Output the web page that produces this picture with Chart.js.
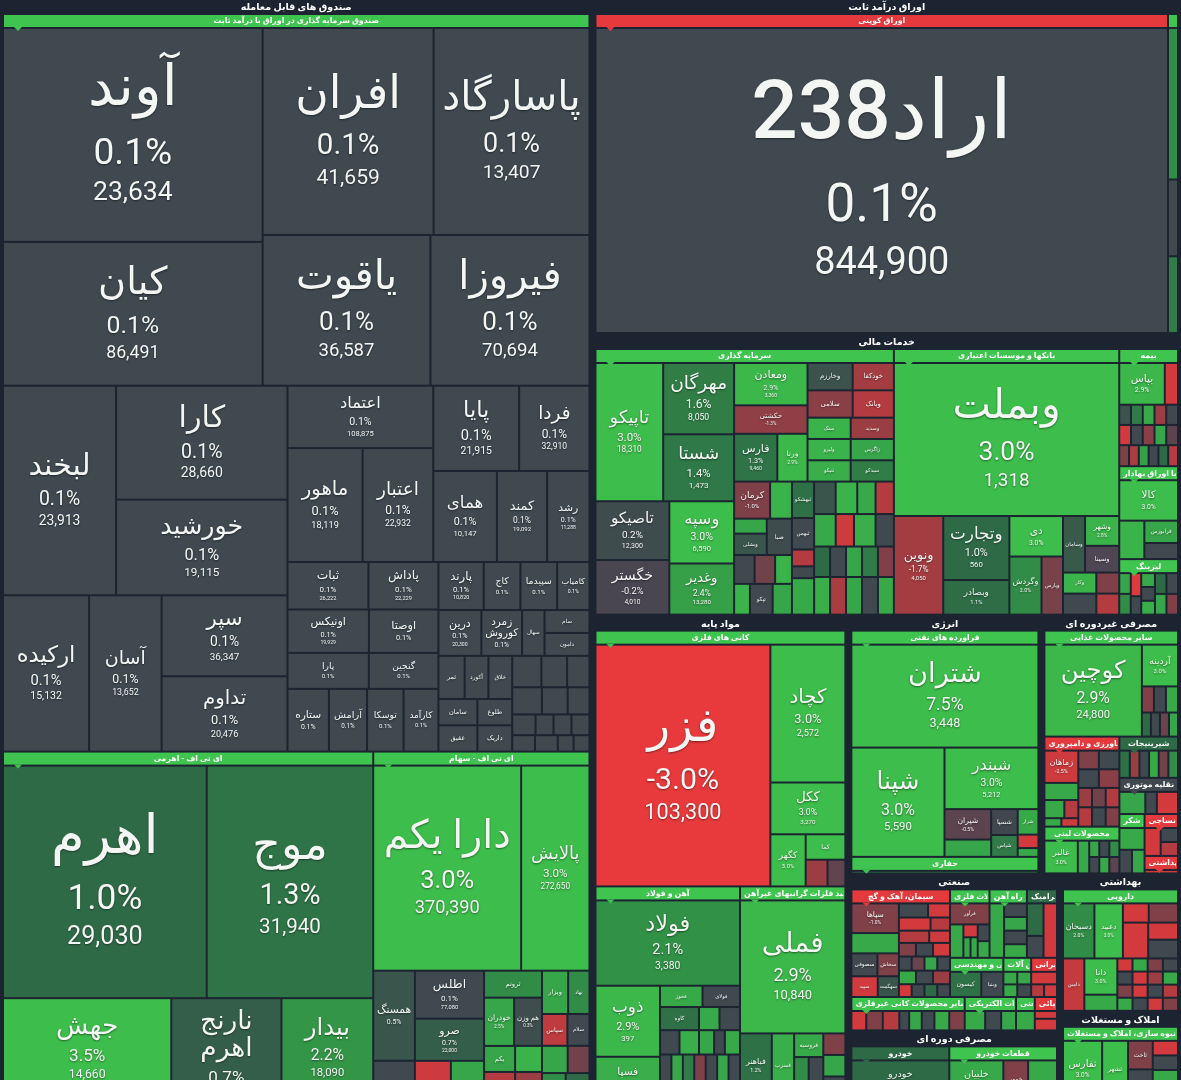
<!DOCTYPE html>
<html><head><meta charset="utf-8">
<script src="https://cdn.jsdelivr.net/npm/chart.js@4.4.1/dist/chart.umd.min.js"></script>
<style>html,body{margin:0;padding:0;background:#1b2430;overflow:hidden}#wrap{width:1181px;height:1080px;position:relative}</style>
</head><body><div id="wrap"><canvas id="c"></canvas></div>
<script>
// ---------------- DATA ----------------
const sectorTitles = ['صندوق های قابل معامله','اوراق درآمد ثابت','خدمات مالی','مواد پایه','انرژی','مصرفی غیردوره ای','صنعتی','مصرفی دوره ای','بهداشتی','املاک و مستغلات'];

const industryKeys   = ['fund','lev','etfs','coupon','couponX','inv','bank','ins','secx','leasing','metal','steel','prec','refin','mining','food','agri','dairy','sweets','vehTrade','sugar','textile','hyg','cement','metalProd','rail','ceramic','engServ','machinery','water','mineral','electric','indSrv','chem','auto','parts','pharma','realty'];
const industryTitles = ['صندوق سرمایه گذاری در اوراق با درآمد ثابت','ای تی اف - اهرمی','ای تی اف - سهام','اوراق کوپنی','','سرمایه گذاری','بانکها و موسسات اعتباری','بیمه','مرتبط با اوراق بهادار','لیزینگ','کانی های فلزی','آهن و فولاد','تولید فلزات گرانبهای غیرآهن','فراورده های نفتی','حفاری','سایر محصولات غذایی','کشاورزی و دامپروری','محصولات لبنی','شیرینیجات','وسایل نقلیه موتوری','قند و شکر','نساجی','بهداشتی','سیمان، آهک و گچ','محصولات فلزی','راه آهن','کاشی و سرامیک','خدمات فنی و مهندسی','ماشین آلات','کشتیرانی','سایر محصولات کانی غیرفلزی','تجهیزات الکتریکی','خدمات صنعتی','محصولات شیمیائی','خودرو','قطعات خودرو','دارویی','انبوه سازی، املاک و مستغلات'];
const industryTrend  = [3,3,3,-3,3,3,3,3,3,3,3,3,3,3,3,3,-3,3,1,0,3,-3,-3,-3,3,3,1,3,3,-3,3,3,3,-3,1,3,3,3];

// صندوق سرمایه گذاری در اوراق با درآمد ثابت
const fundNames = ['آوند','کیان','افران','پاسارگاد','یاقوت','فیروزا','لبخند','کارا','خورشید','ارکیده','آسان','سپر','تداوم','اعتماد','ماهور','اعتبار','پایا','فردا','همای','کمند','رشد','ثبات','پاداش','اونیکس','اوصتا','پارا','گنجین','ستاره','آرامش','توسکا','کارآمد','پارند','کاج','سپیدما','کامیاب','درین','زمرد کوروش','سهال','سام','دامون','ثمر','آکورد','خلاق','سامان','طلوع','عقیق','داریک','','','','','','','','','','','','','',''];
const fundPct   = [0.1,0.1,0.1,0.1,0.1,0.1,0.1,0.1,0.1,0.1,0.1,0.1,0.1,0.1,0.1,0.1,0.1,0.1,0.1,0.1,0.1,0.1,0.1,0.1,0.1,0.1,0.1,0.1,0.1,0.1,0.1,0.1,0.1,0.1,0.1,0.1,0.1,0.1,0.1,0.1,0.1,0.1,0.1,0.1,0.1,0.1,0.1,0.1,0.1,0.1,0.1,0.1,0.1,0.1,0.1,0.1,0.1,0.1,0.1,0.1,0.1];
const fundPrice = [23634,86491,41659,13407,36587,70694,23913,28660,19115,15132,13652,36347,20476,108875,18119,22932,21915,32910,10147,19092,11288,26222,22229,19929,null,null,null,17829,null,null,null,10820,null,null,null,20300,10900];
const fundSize  = [547,366,347,316,247,234,231,190,159,130,109,98,91,87,82,77,70,57,55,43,36,36,31,33,28,27,23,24,22,21,20,20,16,16,14,18,17,9,9,9,10,9,9,9,8,9,8,8,7,6,7,6,5,4,3,3,3,3,3,2,2];
const fundTree  = ['v',['h',['v',0,1],['v',['h',2,3],['h',4,5]]],['h',['v',['h',6,['v',7,8]],['h',9,10,['v',11,12]]],['v',['h',['v',13,['h',14,15]],['v',['h',16,17],['h',18,19,20]]],['h',['v',['h',21,22],['h',23,24],['h',25,26],['h',27,28,29,30]],['v',['h',31,32,33,34],['h',35,36,37,['v',38,39]],['h',['v',['h',40,41,42],['h',43,44],['h',45,46]],['v',['h',47,48,49],['h',50,51,52],['h',53,54,55,56],['h',57,58,59,60]]]]]]]];

// ای تی اف - اهرمی
const levNames = ['اهرم','موج','جهش','نارنج اهرم','بیدار'];
const levPct   = [1.0,1.3,3.5,0.7,2.2];
const levPrice = [29030,31940,14660,null,18090];
const levSize  = [466,380,163,106,88];
const levTree  = ['v',['h',0,1],['h',2,3,4]];

// ای تی اف - سهام
const etfsNames = ['دارا یکم','پالایش','همسنگ','','اطلس','صرو','','','ثروتم','خودران','هم وزن','ویزار','نهاد','سپاس','سلام','یکم','','','','','','',''];
const etfsPct   = [3.0,3.0,0.5,0.1,0.1,0.7,-2.5,2.5,2.0,2.5,0.3,2.5,2.0,-2.2,0.1,2.5,2.8,-2.0,-1.5,2.5,-0.8,2.0,1.0];
const etfsPrice = [370390,272650,10700,null,77080,22000];
const etfsSize  = [297,135,35,14,31,27,12,11,14,13,12,10,8,7,6,7,6,7,6,6,5,5,5];
const etfsTree  = ['v',['h',0,1],['h',['v',2,3],['v',4,5,['h',6,7]],['v',8,['h',9,10],['v',['h',15,16],['h',17,18]]],['v',['h',11,12],['h',13,14],['v',['h',19,20],['h',21,22]]]]];

// اوراق کوپنی
const couponNames = ['اراد238'];
const couponPct   = [0.1];
const couponPrice = [844900];
const couponSize  = [1733];
const couponTree  = 0;

const couponXNames = ['','',''];
const couponXPct   = [2.0,0.1,1.5];
const couponXPrice = [];
const couponXSize  = [12,6,6];
const couponXTree  = ['v',0,1,2];

// سرمایه گذاری
const invNames = ['تاپیکو','مهرگان','شستا','تاصیکو','خگستر','وسپه','وغدیر','ومعادن','حکشتی','فارس','ورنا','وخارزم','خودکفا','سلامی','وبانک','ستک','وسدید','ولپرو','زاگرس','ثنیکو','سیدکو','کرمان','','وسیم','ویشلی','صبا','ستم','برکت','','','تپکو','','ثبهشکو','ثبهمن','','','','','','','','','','','','','','','','','','','','',''];
const invPct   = [3.0,1.6,1.4,0.2,-0.2,3.0,2.4,2.9,-1.3,1.3,2.9,0.4,-1.7,-1.2,-2.0,2.8,-1.5,2.8,2.5,2.7,1.6,-1.0,2.8,2.5,0.5,0.2,0.1,-0.8,2.8,2.8,0.1,2.5,1.2,0.1,-2.0,0.1,2.6,0.5,2.8,2.6,-2.0,2.6,-2.5,2.7,0.1,1.0,0.1,2.5,1.5,-1.0,2.7,-1.8,2.5,0.1,2.6];
const invPrice = [18310,8050,1473,12300,4010,6590,13280,3360,null,9460];
const invSize  = [90,48,45,41,38,38,31,29,19,19,13,11,10,11,10,8,8,8,8,8,8,12,7,4,6,8,5,5,4,4,6,5,7,6,3,2,7,6,6,5,5,6,5,6,5,4,4,4,4,4,5,5,5,5,5];
const invTree  = ['h',['v',['h',0,['v',1,2]],['h',['v',3,4],['v',5,6]]],['v',['h',['v',7,8,['h',9,10]],['v',['h',11,12],['h',13,14],['h',15,16],['h',17,18],['h',19,20]]],['h',['v',['h',21,22],['h',['v',23,24],25],['h',26,27,28],['h',29,30,31]],['v',32,33,34,35,36],['v',['h',37,38,39,40],['h',41,42,43,44],['h',45,46,47,48,49],['h',50,51,52,53,54]]]]];

// بانکها و موسسات اعتباری
const bankNames = ['وبملت','ونوین','وتجارت','وبصادر','دی','وگردش','وپارس','وسامان','وشهر','وسینا','وکار','','',''];
const bankPct   = [3.0,-1.7,1.0,1.1,3.0,2.0,-0.9,0.6,2.8,-0.3,2.8,0.1,-1.0,-2.0];
const bankPrice = [1318,4050,560];
const bankSize  = [339,46,40,21,20,17,11,11,9,8,6,6,4,4];
const bankTree  = ['v',0,['h',1,['v',2,3],['v',4,['h',5,6]],['v',['h',7,['v',8,9]],['h',['v',10,11],['v',12,13]]]]];

// بیمه
const insNames = ['بپاس','','','','','','','','','','','','','','','','',''];
const insPct   = [2.9,-2.6,0.4,1.5,2.6,-1.5,0.1,-2.6,0.1,-1.2,2.5,-0.5,-1.0,-1.8,2.4,0.1,1.0,-2.0];
const insPrice = [5800];
const insSize  = [17.5,4.5,1.8,1.8,1.8,1.8,1.8,1.8,1.8,1.8,1.8,1.8,1.5,1.5,1.5,1.5,1.5,1.5];
const insTree  = ['v',['h',0,1],['h',2,3,4,5,6],['h',7,8,9,10,11],['h',12,13,14,15,16,17]];

const secxNames = ['کالا','','فرابورس',''];
const secxPct   = [3.0,2.8,2.5,0.1];
const secxPrice = [8020];
const secxSize  = [22,8.5,6.5,4.5];
const secxTree  = ['v',0,['h',1,['v',2,3]]];

const leasingNames = ['','','','','','','','','','',''];
const leasingPct   = [2.5,2.0,-2.8,0.1,2.6,0.1,2.7,1.0,2.5,0.1,-1.0];
const leasingPrice = [];
const leasingSize  = [1.8,1.8,1.8,1.4,1.4,1.4,1.4,1.8,1.8,1.8,1.8];
const leasingTree  = ['h',['v',0,1],['v',2,3],['v',4,5,6],['v',7,8],['v',9,10]];

// کانی های فلزی
const metalNames = ['فزر','کچاد','ککل','کگهر','کما','',''];
const metalPct   = [-3.0,3.0,3.0,3.0,3.0,-1.5,-0.6];
const metalPrice = [103300,2572,3270];
const metalSize  = [422,101,37,17,9,5,4];
const metalTree  = ['h',0,['v',1,2,['h',3,['v',4,['h',5,6]]]]];

// آهن و فولاد
const steelNames = ['فولاد','ذوب','فسپا','فخوز','فولای','کاوه','فجر','','فخاس','','','','','','','','','','',''];
const steelPct   = [2.1,2.9,2.7,2.6,0.1,1.2,2.6,0.1,0.1,2.7,2.5,0.1,2.6,0.1,2.6,1.5,-1.0,0.1,2.5,0.1];
const steelPrice = [3380,397];
const steelSize  = [121,44,25,8,7,8,4,4,4,4,3,2,3,4,4,4,4,4,4,4];
const steelTree  = ['v',0,['h',['v',1,2],['v',['h',3,4],['h',5,6,7],['h',8,9,10,11,12],['h',13,14,15,16,17,18,19]]]];

// تولید فلزات گرانبها
const precNames = ['فملی','فباهنر','فسرب','فروسیه','','','','',''];
const precPct   = [2.9,1.2,2.7,2.6,2.0,0.1,-1.0,2.5,0.1];
const precPrice = [10840];
const precSize  = [138,19,13,6,5,5,4,4,4];
const precTree  = ['v',0,['h',1,2,['v',3,['h',4,5]],['v',6,7,8]]];

// فراورده های نفتی
const refinNames = ['شتران','شپنا','شبندر','شیران','شسپا','شراز','','شپاس','',''];
const refinPct   = [7.5,3.0,3.0,-0.5,0.0,2.6,2.5,1.5,-2.6,2.6];
const refinPrice = [3448,5590,5212];
const refinSize  = [191,100,56,13,6,4.5,7,5,2.2,1.3];
const refinTree  = ['v',0,['h',1,['v',2,['h',['v',3,6],['v',4,7],['v',5,8,9]]]]];

const miningNames = [''];
const miningPct   = [2.0];
const miningPrice = [];
const miningSize  = [1];
const miningTree  = 0;

// مصرفی غیردوره ای
const foodNames = ['کوچین','آردینه','','','','','','',''];
const foodPct   = [2.9,3.0,-1.0,0.1,2.6,1.0,0.1,-0.7,2.5];
const foodPrice = [24800];
const foodSize  = [88,14,2.5,2.5,2.5,1.6,1.6,1.6,1.6];
const foodTree  = ['h',0,['v',1,['h',2,3,4],['h',5,6,7,8]]];

const agriNames = ['زماهان','زکوثر','زشگزا','','','','','','','','','','','','',''];
const agriPct   = [-2.5,2.6,2.6,-2.0,2.6,-2.5,-1.0,0.1,0.1,-1.2,-1.5,-0.8,-2.0,-2.0,0.1,-1.0];
const agriPrice = [];
const agriSize  = [10,5,3,2,1,1,3.2,3.2,3.2,3.2,2.1,2.1,2.1,2.1,2.1,2.1];
const agriTree  = ['h',['v',0,1,['h',2,3],['h',4,5]],['v',['h',6,7],['h',8,9],['h',10,11,12],['h',13,14,15]]];

const dairyNames = ['غالبر','','','','','','',''];
const dairyPct   = [3.0,2.6,2.5,0.1,2.0,0.1,2.6,-0.5];
const dairyPrice = [];
const dairySize  = [10,3,1.2,1.2,1.2,1.2,1.2,1.2];
const dairyTree  = ['h',0,1,['v',['h',2,3,4],['h',5,6,7]]];

const sweetsNames = ['','','','','',''];
const sweetsPct   = [1.2,-1.5,0.1,2.6,-0.8,2.0];
const sweetsPrice = [];
const sweetsSize  = [2.2,2,2,2,2,2];
const sweetsTree  = ['h',0,1,2,3,4,5];

const vehTradeNames = ['','',''];
const vehTradePct   = [2.5,0.1,-2.6];
const vehTradePrice = [];
const vehTradeSize  = [5,2,4];
const vehTradeTree  = ['h',0,1,2];

const sugarNames = ['','',''];
const sugarPct   = [2.6,0.1,2.5];
const sugarPrice = [];
const sugarSize  = [5,2.5,2.5];
const sugarTree  = ['v',0,['h',1,2]];

const textileNames = ['','',''];
const textilePct   = [-2.6,0.1,-2.0];
const textilePrice = [];
const textileSize  = [4,2,2];
const textileTree  = ['h',0,['v',1,2]];

const hygNames = [''];
const hygPct   = [-2.6];
const hygPrice = [];
const hygSize  = [0.5];
const hygTree  = 0;

// صنعتی
const cementNames = ['سپاها','','','','','سشرق','','','سصوفی','سخاش','سپید','سهگمت','','','','','','','','','','','','','',''];
const cementPct   = [-1.0,0.1,-2.6,-2.6,-2.0,2.6,-2.0,-2.5,0.1,-1.0,-2.6,0.5,-1.0,0.1,-2.6,0.1,-0.7,2.5,0.1,2.6,0.1,-1.5,-2.6,0.1,1.0,0.1];
const cementPrice = [];
const cementSize  = [13,3.4,2.5,3.4,2,8.6,3,2,5.2,4.2,4.7,3.7,1.8,1.8,1.8,1.35,1.35,1.35,1.35,1.8,1.8,1.8,1.2,1.2,1.2,1.2];
const cementTree  = ['h',['v',0,5,['h',8,9],['h',10,11]],['v',['h',1,2],['h',3,4],['h',6,7],['v',['h',12,13,14],['h',15,16,17,18],['h',19,20,21],['h',22,23,24,25]]]];

const metalProdNames = ['فرآور','','','','','',''];
const metalProdPct   = [-1.0,2.6,-2.6,2.5,2.6,0.1,2.6];
const metalProdPrice = [];
const metalProdSize  = [7.4,3.7,1.4,1,1,1.5,1.5];
const metalProdTree  = ['v',0,['h',1,['v',2,['h',3,4]],['v',5,6]]];

const railNames = ['','','','',''];
const railPct   = [2.6,0.1,2.5,0.1,2.6];
const railPrice = [];
const railSize  = [6.8,2.5,2.5,2.5,2.5];
const railTree  = ['h',0,['v',1,2,3,4]];

const ceramicNames = ['','',''];
const ceramicPct   = [1.0,0.1,-2.6];
const ceramicPrice = [];
const ceramicSize  = [4.6,3,6.2];
const ceramicTree  = ['h',['v',0,1],2];

const engServNames = ['کیسون','وبنیا'];
const engServPct   = [1.2,0.1];
const engServPrice = [];
const engServSize  = [7,4.8];
const engServTree  = ['h',0,1];

const machineryNames = ['','','',''];
const machineryPct   = [2.6,2.5,2.6,0.1];
const machineryPrice = [];
const machinerySize  = [1.3,1.3,1.3,1.3];
const machineryTree  = ['v',['h',0,1],['h',2,3]];

const waterNames = ['','',''];
const waterPct   = [-2.6,-2.0,-2.6];
const waterPrice = [];
const waterSize  = [2.6,1.2,1.2];
const waterTree  = ['v',0,['h',1,2]];

const mineralNames = ['','','','','','','',''];
const mineralPct   = [-2.6,-1.0,-2.0,0.1,2.5,0.1,2.6,-1.0];
const mineralPrice = [];
const mineralSize  = [2.3,2.6,2.6,1.4,1.9,1.9,2.3,2.4];
const mineralTree  = ['h',0,1,2,3,4,5,6,7];

const electricNames = ['','',''];
const electricPct   = [2.6,0.1,2.5];
const electricPrice = [];
const electricSize  = [3.3,2.5,2.3];
const electricTree  = ['h',0,1,2];

const indSrvNames = [''];
const indSrvPct   = [2.6];
const indSrvPrice = [];
const indSrvSize  = [3];
const indSrvTree  = 0;

const chemNames = ['',''];
const chemPct   = [-2.6,-2.6];
const chemPrice = [];
const chemSize  = [1.2,2];
const chemTree  = ['v',0,1];

// مصرفی دوره ای
const autoNames = ['خودرو'];
const autoPct   = [1.0];
const autoPrice = [];
const autoSize  = [35];
const autoTree  = 0;

const partsNames = ['خلبیان','خمهر',''];
const partsPct   = [2.6,-1.0,2.6];
const partsPrice = [];
const partsSize  = [19,8.3,9.8];
const partsTree  = ['h',0,1,2];

// بهداشتی
const pharmaNames = ['دسبحان','دعبید','دلر','','','','','دامین','دانا','','','','','','','','','','','','','','','','',''];
const pharmaPct   = [2.0,3.0,-2.6,-1.0,-2.6,-2.6,0.1,-2.3,3.0,2.6,-2.6,2.6,-1.0,0.1,0.1,-2.6,-1.5,2.6,-1.0,-2.6,0.1,-2.0,2.6,0.1,-2.6,-1.0];
const pharmaPrice = [];
const pharmaSize  = [16,14.4,4.2,4.8,8.1,4.3,4.8,10,10.9,4.5,1.5,1.5,1.5,1.5,1.5,1.5,1.5,1.5,1.5,1.5,1.5,1.5,1.5,1.5,1.5,1.5];
const pharmaTree  = ['v',['h',0,1,['v',['h',2,3],['h',4,['v',5,6]]]],['h',7,['v',8,9],['v',['h',10,11,12,13],['h',14,15,16,17],['h',18,19,20,21],['h',22,23,24,25]]]];

// املاک و مستغلات
const realtyNames = ['ثفارس','ثشهر','ثاخت','','','',''];
const realtyPct   = [3.0,3.0,-1.0,0.1,-2.6,0.1,2.6];
const realtyPrice = [];
const realtySize  = [21,13.5,6.2,6.2,3,3,6.2];
const realtyTree  = ['h',0,1,['v',2,3],['v',4,5,6]];

// ---------------- REGISTRY ----------------
const G = {};
function reg(key, names, pct, price, size, tree){ G[key] = {names, pct, price, size, tree}; }
reg('fund', fundNames, fundPct, fundPrice, fundSize, fundTree);
reg('lev', levNames, levPct, levPrice, levSize, levTree);
reg('etfs', etfsNames, etfsPct, etfsPrice, etfsSize, etfsTree);
reg('coupon', couponNames, couponPct, couponPrice, couponSize, couponTree);
reg('couponX', couponXNames, couponXPct, couponXPrice, couponXSize, couponXTree);
reg('inv', invNames, invPct, invPrice, invSize, invTree);
reg('bank', bankNames, bankPct, bankPrice, bankSize, bankTree);
reg('ins', insNames, insPct, insPrice, insSize, insTree);
reg('secx', secxNames, secxPct, secxPrice, secxSize, secxTree);
reg('leasing', leasingNames, leasingPct, leasingPrice, leasingSize, leasingTree);
reg('metal', metalNames, metalPct, metalPrice, metalSize, metalTree);
reg('steel', steelNames, steelPct, steelPrice, steelSize, steelTree);
reg('prec', precNames, precPct, precPrice, precSize, precTree);
reg('refin', refinNames, refinPct, refinPrice, refinSize, refinTree);
reg('mining', miningNames, miningPct, miningPrice, miningSize, miningTree);
reg('food', foodNames, foodPct, foodPrice, foodSize, foodTree);
reg('agri', agriNames, agriPct, agriPrice, agriSize, agriTree);
reg('dairy', dairyNames, dairyPct, dairyPrice, dairySize, dairyTree);
reg('sweets', sweetsNames, sweetsPct, sweetsPrice, sweetsSize, sweetsTree);
reg('vehTrade', vehTradeNames, vehTradePct, vehTradePrice, vehTradeSize, vehTradeTree);
reg('sugar', sugarNames, sugarPct, sugarPrice, sugarSize, sugarTree);
reg('textile', textileNames, textilePct, textilePrice, textileSize, textileTree);
reg('hyg', hygNames, hygPct, hygPrice, hygSize, hygTree);
reg('cement', cementNames, cementPct, cementPrice, cementSize, cementTree);
reg('metalProd', metalProdNames, metalProdPct, metalProdPrice, metalProdSize, metalProdTree);
reg('rail', railNames, railPct, railPrice, railSize, railTree);
reg('ceramic', ceramicNames, ceramicPct, ceramicPrice, ceramicSize, ceramicTree);
reg('engServ', engServNames, engServPct, engServPrice, engServSize, engServTree);
reg('machinery', machineryNames, machineryPct, machineryPrice, machinerySize, machineryTree);
reg('water', waterNames, waterPct, waterPrice, waterSize, waterTree);
reg('mineral', mineralNames, mineralPct, mineralPrice, mineralSize, mineralTree);
reg('electric', electricNames, electricPct, electricPrice, electricSize, electricTree);
reg('indSrv', indSrvNames, indSrvPct, indSrvPrice, indSrvSize, indSrvTree);
reg('chem', chemNames, chemPct, chemPrice, chemSize, chemTree);
reg('auto', autoNames, autoPct, autoPrice, autoSize, autoTree);
reg('parts', partsNames, partsPct, partsPrice, partsSize, partsTree);
reg('pharma', pharmaNames, pharmaPct, pharmaPrice, pharmaSize, pharmaTree);
reg('realty', realtyNames, realtyPct, realtyPrice, realtySize, realtyTree);

// ---------------- HIERARCHY ----------------
function leafNode(key, i){ return {t:'leaf', key, i, w:G[key].size[i]}; }
function fromTree(key, tr){ if (typeof tr === 'number') return leafNode(key, tr); return {t:'split', dir:tr[0], kids:tr.slice(1).map(x=>fromTree(key,x))}; }
function I(key){ const k = industryKeys.indexOf(key); return {t:'ind', key, title:industryTitles[k], trend:industryTrend[k], kid:fromTree(key, G[key].tree)}; }
function S(si, tr){ return {t:'sec', title:sectorTitles[si], kid:tr}; }
function L(tr){ if (Array.isArray(tr)) return {t:'split', dir:tr[0], kids:tr.slice(1).map(L)}; if (tr.t==='sec'){ tr.kid = L(tr.kid); } return tr; }

const layoutSpec = ['h',
  S(0, ['v', I('fund'), ['h', I('lev'), I('etfs')]]),
  ['v',
    S(1, ['h', I('coupon'), I('couponX')]),
    S(2, ['h', I('inv'), I('bank'), ['v', I('ins'), I('secx'), I('leasing')]]),
    ['h',
      S(3, ['v', I('metal'), ['h', I('steel'), I('prec')]]),
      ['v',
        ['h',
          S(4, ['v', I('refin'), I('mining')]),
          S(5, ['v', I('food'), ['h', ['v', I('agri'), I('dairy')], ['v', I('sweets'), I('vehTrade'), ['h', I('sugar'), ['v', I('textile'), I('hyg')]]]]])
        ],
        ['h',
          ['v',
            S(6, ['v', ['h', I('cement'), ['v', ['h', I('metalProd'), I('rail'), I('ceramic')], ['h', I('engServ'), I('machinery'), I('water')]]], ['h', I('mineral'), I('electric'), I('indSrv'), I('chem')]]),
            S(7, ['h', I('auto'), I('parts')])
          ],
          ['v', S(8, I('pharma')), S(9, I('realty'))]
        ]
      ]
    ]
  ]
];

// ---------------- LAYOUT ENGINE ----------------
const ROOT_W = 1181, ROOT_H = 1100;
const SEC_HEAD = 14, SEC_PX = 3, SEC_PB = 2, BAND = 14, GAP = 2;
const root = L(layoutSpec);

function prep(n){
  if (n.t==='leaf'){ n.ovh=GAP; n.ovv=GAP; return; }
  if (n.t==='split'){
    n.kids.forEach(prep);
    n.w = n.kids.reduce((s,k)=>s+k.w,0);
    if (n.dir==='h'){ n.ovh = n.kids.reduce((s,k)=>s+k.ovh,0); n.ovv = n.kids.reduce((s,k)=>s+k.ovv*k.w,0)/n.w; }
    else { n.ovv = n.kids.reduce((s,k)=>s+k.ovv,0); n.ovh = n.kids.reduce((s,k)=>s+k.ovh*k.w,0)/n.w; }
    return;
  }
  prep(n.kid); n.w = n.kid.w;
  if (n.t==='ind'){ n.ovh = n.kid.ovh; n.ovv = n.kid.ovv + BAND; }
  else { n.ovh = n.kid.ovh + 2*SEC_PX; n.ovv = n.kid.ovv + SEC_HEAD + SEC_PB; }
}
prep(root);

function place(n, x, y, w, h, out){
  n.r = {x, y, w, h};
  if (n.t==='leaf'){ out.leaves.push(n); return; }
  if (n.t==='ind'){ out.bands.push(n); place(n.kid, x, y+BAND, w, h-BAND, out); return; }
  if (n.t==='sec'){ out.secs.push(n); place(n.kid, x+SEC_PX, y+SEC_HEAD, w-2*SEC_PX, h-SEC_HEAD-SEC_PB, out); return; }
  const horiz = n.dir==='h';
  const len = horiz ? w : h, cross = horiz ? h : w;
  const fixed = n.kids.reduce((s,k)=>s+(horiz?k.ovh:k.ovv),0);
  const free = Math.max(0, len - fixed);
  const q = n.kids.map(k=>k.w/Math.max(1, cross-(horiz?k.ovv:k.ovh)));
  const qs = q.reduce((a,b)=>a+b,0);
  let pos = horiz ? x : y;
  n.kids.forEach((k, idx)=>{
    const sz = (horiz?k.ovh:k.ovv) + free*q[idx]/qs;
    if (horiz) place(k, pos, y, sz, h, out); else place(k, x, pos, w, sz, out);
    pos += sz;
  });
}

// ---------------- COLOURS ----------------
const STOPS = [[-3,[232,57,60]],[-2,[180,60,64]],[-1,[128,64,72]],[-0.3,[78,70,82]],[0,[64,71,79]],[0.3,[62,78,78]],[1,[47,106,71]],[2,[48,140,70]],[3,[61,189,75]]];
function colorFor(p){
  p = Math.max(-3, Math.min(3, p));
  for (let i=0;i<STOPS.length-1;i++){
    const [a,ca] = STOPS[i], [b,cb] = STOPS[i+1];
    if (p <= b){ const t=(p-a)/(b-a); return 'rgb('+ca.map((c,j)=>Math.round(c+(cb[j]-c)*t)).join(',')+')'; }
  }
  return 'rgb(61,189,75)';
}
function bandColor(p){ if (p >= 3) return 'rgb(64,196,80)'; if (p <= -3) return 'rgb(228,58,62)'; return colorFor(p); }

const NAME_FONT = "Roboto, 'DejaVu Sans', sans-serif";
const NUM_FONT = "Roboto, 'DejaVu Sans', sans-serif";
function fmtPct(p){ return p.toFixed(1) + '%'; }

function leafText(ctx, n, x, y, w, h){
  const g = G[n.key], name = g.names[n.i];
  if (!name) return;
  const m = Math.min(w, h);
  let nf = 0.27*m; const pf0 = 0.175*m, rf0 = 0.125*m;
  const maxW = w*0.9;
  ctx.font = '500 '+nf+'px '+NAME_FONT;
  let lines = [name];
  const tw = ctx.measureText(name).width;
  if (tw > maxW){
    const sp = name.indexOf(' ');
    const ratio = maxW/tw;
    if (sp > 0 && (ratio < 0.72 || (ratio < 0.95 && w >= h))){
      lines = [name.slice(0,sp), name.slice(sp+1)];
      const lw = Math.max(...lines.map(s=>ctx.measureText(s).width));
      if (lw > maxW) nf *= maxW/lw;
    } else nf *= ratio;
  }
  if (nf < 5) return;
  const items = lines.map(s=>({s, f:nf, font:NAME_FONT, rtl:true, wt:'500 '}));
  const pct = g.pct[n.i];
  const price = g.price[n.i] ?? null;
  if (pf0 >= 4.5 && pct != null) items.push({s:fmtPct(pct), f:pf0, font:NUM_FONT, wt:''});
  if (rf0 >= 5 && price != null && items.length > lines.length) items.push({s:price.toLocaleString('en-US'), f:rf0, font:NUM_FONT, wt:''});
  const pos = [0]; let c = 0;
  for (let k=1;k<items.length;k++){
    const a = items[k-1], b = items[k];
    let d;
    if (a.rtl && b.rtl) d = 1.05*a.f;
    else if (a.rtl) d = 0.72*a.f + 0.6*b.f;
    else d = 0.62*(a.f + b.f);
    c += d; pos.push(c);
  }
  const top = -0.45*items[0].f, bot = c + 0.42*items[items.length-1].f;
  let sc = 1; if (bot-top > h*0.94) sc = h*0.94/(bot-top);
  const cy = y + h/2 - (top+bot)/2*sc;
  ctx.save();
  ctx.beginPath(); ctx.rect(x, y, w, h); ctx.clip();
  ctx.fillStyle = '#f4f6f4';
  ctx.shadowColor = 'rgba(0,0,0,0.45)'; ctx.shadowBlur = 2; ctx.shadowOffsetY = 1;
  ctx.textAlign = 'center'; ctx.textBaseline = 'middle';
  items.forEach((it, k)=>{
    let f = it.f*sc;
    ctx.font = it.wt+f+'px '+it.font;
    if (!it.rtl){ const ww = ctx.measureText(it.s).width; if (ww > w*0.95){ f *= w*0.95/ww; ctx.font = it.wt+f+'px '+it.font; } }
    ctx.direction = it.rtl ? 'rtl' : 'ltr';
    ctx.fillText(it.s, x + w/2, cy + pos[k]*sc);
  });
  ctx.restore();
}

const treemapPlugin = {
  id: 'treemapCells',
  beforeDraw(chart){
    const c = chart.ctx; c.save(); c.fillStyle = '#1b2430'; c.fillRect(0,0,chart.width,chart.height); c.restore();
  },
  afterDatasetsDraw(chart){
    const ctx = chart.ctx, xs = chart.scales.x, ys = chart.scales.y;
    const out = {leaves:[], bands:[], secs:[]};
    place(root, 0, 0, ROOT_W, ROOT_H, out);
    const R = r => { const x0 = xs.getPixelForValue(r.x), x1 = xs.getPixelForValue(r.x+r.w), y0 = ys.getPixelForValue(r.y), y1 = ys.getPixelForValue(r.y+r.h); return {x:x0, y:y0, w:x1-x0, h:y1-y0}; };
    ctx.save();
    out.leaves.forEach(n=>{
      const r = R(n.r); const g = G[n.key];
      const x = r.x + GAP/2, y = r.y + GAP/2, w = r.w - GAP, h = r.h - GAP;
      if (w <= 0 || h <= 0) return;
      ctx.fillStyle = colorFor(g.pct[n.i]);
      ctx.fillRect(x, y, w, h);
      leafText(ctx, n, x, y, w, h);
    });
    out.bands.forEach(n=>{
      const r = R(n.r);
      const x = r.x + 1, y = r.y + 1, w = r.w - 2, h = BAND - 2;
      if (w <= 0) return;
      const col = bandColor(n.trend);
      ctx.fillStyle = col; ctx.fillRect(x, y, w, h);
      if (w > 30){
        ctx.beginPath(); ctx.moveTo(x+10, y+h); ctx.lineTo(x+18, y+h); ctx.lineTo(x+14, y+h+4); ctx.closePath(); ctx.fill();
      }
      if (n.title){
        ctx.save(); ctx.beginPath(); ctx.rect(x+1, y, w-2, h); ctx.clip();
        ctx.font = 'bold 7.8px '+NAME_FONT; ctx.fillStyle = '#ffffff'; ctx.textBaseline = 'middle'; ctx.direction = 'rtl';
        const tw = ctx.measureText(n.title).width;
        if (tw <= w - 6){ ctx.textAlign = 'center'; ctx.fillText(n.title, x + w/2, y + h/2 + 0.5); }
        else { ctx.textAlign = 'left'; ctx.fillText(n.title, x + 3, y + h/2 + 0.5); }
        ctx.restore();
      }
    });
    out.secs.forEach(n=>{
      const r = R(n.r);
      ctx.save(); ctx.beginPath(); ctx.rect(r.x, r.y, r.w, SEC_HEAD); ctx.clip();
      ctx.font = 'bold 9.5px '+NAME_FONT; ctx.fillStyle = '#ffffff'; ctx.textAlign = 'center'; ctx.textBaseline = 'middle'; ctx.direction = 'rtl';
      ctx.fillText(n.title, r.x + r.w/2, r.y + SEC_HEAD/2 + 0.5);
      ctx.restore();
    });
    ctx.restore();
  }
};

new Chart(document.getElementById('c'), {
  type: 'scatter',
  data: { datasets: [{ data: [], pointRadius: 0 }] },
  options: {
    responsive: true, maintainAspectRatio: false, animation: false, events: [],
    layout: { padding: 0 },
    plugins: { legend: { display: false }, tooltip: { enabled: false } },
    scales: {
      x: { type: 'linear', min: 0, max: ROOT_W, display: false },
      y: { type: 'linear', min: 0, max: 1080, reverse: true, display: false }
    }
  },
  plugins: [treemapPlugin]
});
</script></body></html>
